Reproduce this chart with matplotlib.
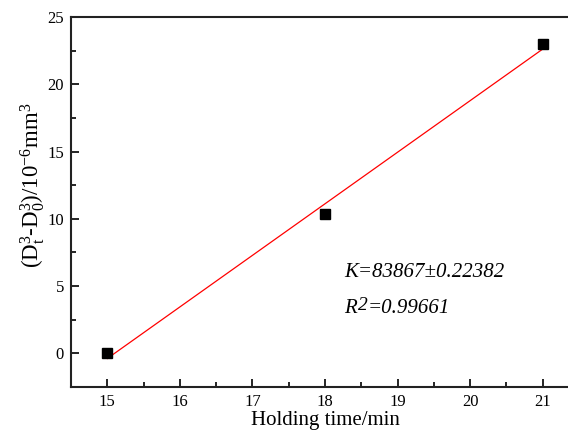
import numpy as np
import matplotlib
matplotlib.use("Agg")
import matplotlib.pyplot as plt

plt.rcParams["font.family"] = ["Liberation Serif", "DejaVu Serif"]
plt.rcParams["mathtext.fontset"] = "custom"
plt.rcParams["mathtext.rm"] = "Liberation Serif"
plt.rcParams["mathtext.it"] = "Liberation Serif:italic"

# Data
holding_time = [15, 18, 21]
growth = [0.0, 10.35, 23.0]
x_ticks = [15, 16, 17, 18, 19, 20, 21]
y_ticks = [0, 5, 10, 15, 20, 25]

fig = plt.figure(figsize=(5.68, 4.32), dpi=100)
ax = fig.add_axes([71 / 568, 45 / 432, 508 / 568, 370 / 432])

# linear fit through the points
slope, intercept = np.polyfit(holding_time, growth, 1)
xs = np.array([holding_time[0], holding_time[-1]])
ax.plot(xs, slope * xs + intercept, color="red", lw=0.9, zorder=2)
ax.plot(holding_time, growth, "s", color="black", ms=6.5, zorder=3)

ax.set_xlim(14.5, 21.5)
ax.set_ylim(-2.5, 25)
ax.set_xticks(x_ticks)
ax.set_yticks(y_ticks)
ax.set_xticks(np.arange(15.5, 21.5, 1), minor=True)
ax.set_yticks(np.arange(-2.5, 25, 5), minor=True)
ax.tick_params(direction="in", which="both", labelsize=12, width=1.2, pad=5)
ax.tick_params(which="major", length=6)
ax.tick_params(which="minor", length=3.5)

for side in ["left", "bottom", "top", "right"]:
    ax.spines[side].set_linewidth(1.5)
    ax.spines[side].set_color("#222222")

ax.set_xlabel("Holding time/min", fontsize=15, labelpad=1)
ax.set_ylabel(r"(D$_\mathrm{t}^\mathrm{3}$-D$_\mathrm{0}^\mathrm{3}$)/10$^\mathrm{-6}$mm$^\mathrm{3}$",
              fontsize=16.5)
ax.yaxis.set_label_coords(-0.047, 0.546)

ax.text(18.27, 5.7, "K=83867±0.22382", style="italic", fontsize=15, va="baseline")
t_r = ax.text(18.27, 2.97, "R", style="italic", fontsize=15, va="baseline")
t_two = ax.annotate("2", xy=(1, 0), xycoords=t_r, xytext=(0.5, 3.5),
                    textcoords="offset points", style="italic", fontsize=14, va="bottom")
ax.annotate("=0.99661", xy=(1, 0), xycoords=(t_two, t_r), xytext=(0, 0),
            textcoords="offset points", style="italic", fontsize=15, va="bottom")

fig.savefig("out.png", dpi=100)
